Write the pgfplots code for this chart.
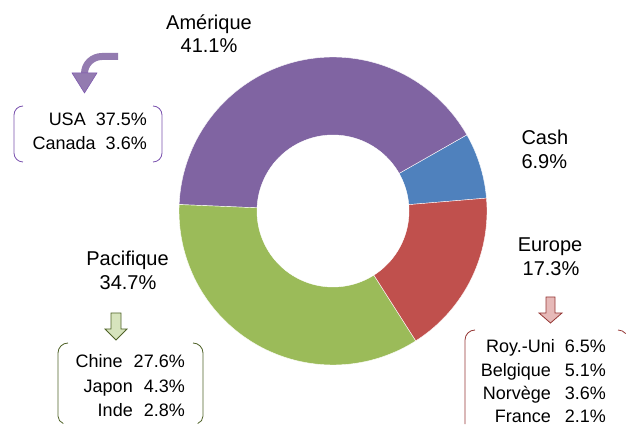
\documentclass[border=0pt]{standalone}
\usepackage{pgfplots}
\pgfplotsset{compat=1.18}
\usepackage{fontspec}
\setmainfont{Liberation Sans}
\definecolor{cAm}{HTML}{8064A2}
\definecolor{cCash}{HTML}{4F81BD}
\definecolor{cEu}{HTML}{C0504D}
\definecolor{cPa}{HTML}{9BBB59}
\definecolor{bAm}{HTML}{7A52AE}
\definecolor{bPa}{HTML}{4F6228}
\definecolor{bEu}{HTML}{953735}
\definecolor{fPa}{HTML}{D7E4BD}
\definecolor{fEu}{HTML}{E6B9B8}
% data (percent)
\def\vCash{6.9}
\def\vAm{41.1}
\def\vPa{34.7}
\def\vEu{17.3}
\pgfmathsetmacro\aA{4.8}
\pgfmathsetmacro\aB{\aA+3.6*\vCash}
\pgfmathsetmacro\aC{\aB+3.6*\vAm}
\pgfmathsetmacro\aD{\aC+3.6*\vPa}
\pgfmathsetmacro\aE{\aD+3.6*\vEu}
\def\cx{333}
\def\cy{214}
\def\RR{154}
\def\rr{76}
\newcommand{\bigfs}{\fontsize{20}{23}\selectfont}
\newcommand{\medfs}{\fontsize{18}{22}\selectfont}
\begin{document}
\begin{tikzpicture}
\begin{axis}[scale only axis, width=628pt, height=425pt,
  xmin=0, xmax=628, ymin=0, ymax=425, hide axis, clip=false]
\path (0,0) rectangle (628,425);
% donut sectors
\addplot[fill=cCash, draw=white, line width=0.4pt, domain=\aA:\aB, samples=40, variable=\t]
  ({\cx+\RR*cos(t)},{\cy+\RR*sin(t)}) -- (\cx,\cy) -- cycle;
\addplot[fill=cAm, draw=white, line width=0.4pt, domain=\aB:\aC, samples=120, variable=\t]
  ({\cx+\RR*cos(t)},{\cy+\RR*sin(t)}) -- (\cx,\cy) -- cycle;
\addplot[fill=cPa, draw=white, line width=0.4pt, domain=\aC:\aD, samples=100, variable=\t]
  ({\cx+\RR*cos(t)},{\cy+\RR*sin(t)}) -- (\cx,\cy) -- cycle;
\addplot[fill=cEu, draw=white, line width=0.4pt, domain=\aD:\aE, samples=60, variable=\t]
  ({\cx+\RR*cos(t)},{\cy+\RR*sin(t)}) -- (\cx,\cy) -- cycle;
\addplot[fill=white, draw=white, domain=0:360, samples=150, variable=\t]
  ({\cx+\rr*cos(t)},{\cy+\rr*sin(t)}) -- cycle;
% main labels
\node[anchor=base, font=\bigfs] at (209,395) {Amérique};
\node[anchor=base, font=\bigfs] at (209,372) {41.1\%};
\node[anchor=base west, font=\bigfs] at (518,280) {Cash};
\node[anchor=base west, font=\bigfs] at (518,256) {6.9\%};
\node[anchor=base, font=\bigfs] at (550,173) {Europe};
\node[anchor=base, font=\bigfs] at (551,149) {17.3\%};
\node[anchor=base, font=\bigfs] at (127.5,159) {Pacifique};
\node[anchor=base, font=\bigfs] at (128,135) {34.7\%};
% purple arrow
\draw[cAm!85!white, line width=7pt] (118,368.5) -- (102,368.5) to[out=180,in=90] (84.5,351.5);
\fill[cAm!85!white, draw=bAm, line width=0.5pt] (72,352) -- (97,352) -- (84.5,332) -- cycle;
% green arrow
\draw[fill=fPa, draw=bPa, line width=0.8pt] (111,112) -- (121,112) -- (121,96) -- (127,96) -- (116,85) -- (105,96) -- (111,96) -- cycle;
% red arrow
\draw[fill=fEu, draw=bEu, line width=0.8pt] (546,128) -- (555,128) -- (555,112) -- (562,112) -- (550.5,102) -- (539,112) -- (546,112) -- cycle;
% bracket boxes
\draw[bAm, line width=0.8pt] (23,319) arc[start angle=90,end angle=180,radius=9pt] -- (14,272) arc[start angle=180,end angle=270,radius=9pt];
\draw[bAm, line width=0.8pt] (153,319) arc[start angle=90,end angle=0,radius=9pt] -- (162,272) arc[start angle=0,end angle=-90,radius=9pt];
\draw[bPa, line width=0.8pt] (68,82) arc[start angle=90,end angle=180,radius=10pt] -- (58,9) arc[start angle=180,end angle=250,radius=8pt];
\draw[bPa, line width=0.8pt] (193,82) arc[start angle=90,end angle=0,radius=10pt] -- (203,9) arc[start angle=0,end angle=-70,radius=8pt];
\draw[bEu, line width=0.8pt] (475,95) arc[start angle=90,end angle=180,radius=10pt] -- (465,1);
\draw[bEu, line width=0.8pt] (618,95) arc[start angle=90,end angle=40,radius=10pt];
% box texts
\node[anchor=base east, font=\medfs, inner sep=0pt] at (147,299) {USA\hspace{10pt}37.5\%};
\node[anchor=base east, font=\medfs, inner sep=0pt] at (147,275) {Canada\hspace{10pt}3.6\%};
\node[anchor=base east, font=\medfs, inner sep=0pt] at (185,57) {Chine\hspace{11pt}27.6\%};
\node[anchor=base east, font=\medfs, inner sep=0pt] at (185,32) {Japon\hspace{11pt}4.3\%};
\node[anchor=base east, font=\medfs, inner sep=0pt] at (185,9) {Inde\hspace{11pt}2.8\%};
\node[anchor=base east, font=\medfs, inner sep=0pt] at (555,72) {Roy.-Uni};
\node[anchor=base east, font=\medfs, inner sep=0pt] at (606,72) {6.5\%};
\node[anchor=base east, font=\medfs, inner sep=0pt] at (551,48) {Belgique};
\node[anchor=base east, font=\medfs, inner sep=0pt] at (606,48) {5.1\%};
\node[anchor=base east, font=\medfs, inner sep=0pt] at (551,25) {Norvège};
\node[anchor=base east, font=\medfs, inner sep=0pt] at (606,25) {3.6\%};
\node[anchor=base east, font=\medfs, inner sep=0pt] at (551,3) {France};
\node[anchor=base east, font=\medfs, inner sep=0pt] at (606,3) {2.1\%};
\end{axis}
\end{tikzpicture}
\end{document}
